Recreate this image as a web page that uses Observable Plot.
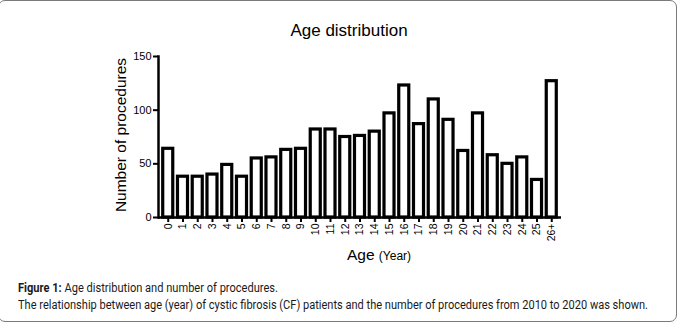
<!DOCTYPE html>
<html>
<head>
<meta charset="utf-8">
<script src="https://cdn.jsdelivr.net/npm/d3@7"></script>
<script src="https://cdn.jsdelivr.net/npm/@observablehq/plot@0.6"></script>
<style>
  html, body { margin: 0; padding: 0; background: #fff; }
  #wrap { position: relative; width: 679px; height: 323px; overflow: hidden; font-family: Arial, "Liberation Sans", sans-serif; color: #000; }
  #box { position: absolute; left: -2px; top: 0; width: 679px; height: 322px; border: 1px solid #7a7a7a; border-radius: 7px; box-sizing: border-box; }
  #chart { position: absolute; left: 0; top: 0; }
  .abs { position: absolute; white-space: nowrap; line-height: 1; }
  #title { left: 349px; top: 22px; transform: translateX(-50%); font-size: 17px; }
  #ylab { left: 121px; top: 135px; transform: translate(-50%, -50%) rotate(-90deg); font-size: 15.5px; }
  #xlab { left: 379px; top: 247px; transform: translateX(-50%); font-size: 15.5px; }
  #xlab small { font-size: 12px; }
  .cap { left: 18px; font-family: Roboto, "Noto Sans", sans-serif; font-size: 12px; color: #1a1a1a; transform-origin: 0 0; }
  #cap1 { top: 282px; }
  #cap2 { top: 299px; }
</style>
</head>
<body>
<div id="wrap">
  <div id="box"></div>
  <div id="chart"></div>
  <div id="title" class="abs">Age distribution</div>
  <div id="ylab" class="abs">Number of procedures</div>
  <div id="xlab" class="abs">Age <small>(Year)</small></div>
  <div id="cap1" class="abs cap"><b>Figure 1:</b> Age distribution and number of procedures.</div>
  <div id="cap2" class="abs cap">The relationship between age (year) of cystic fibrosis (CF) patients and the number of procedures from 2010 to 2020 was shown.</div>
</div>
<script>
const ages = ["0","1","2","3","4","5","6","7","8","9","10","11","12","13","14","15","16","17","18","19","20","21","22","23","24","25","26+"];
const counts = [64,38,38,40,49,38,55,56,63,64,82,82,75,76,80,97,123,87,110,91,62,97,58,50,56,35,127];
const yTicks = [0, 50, 100, 150];

const data = ages.map((a, i) => ({age: a, count: counts[i]}));

const chart = Plot.plot({
  width: 679,
  height: 270,
  marginLeft: 158,
  marginRight: 118,
  marginTop: 56,
  marginBottom: 53,
  style: {fontFamily: "Arial, 'Liberation Sans', sans-serif", background: "transparent", color: "#000", overflow: "visible"},
  x: {domain: ages, padding: 0.32, round: false, label: null},
  y: {domain: [0, 150], label: null},
  marks: [
    Plot.barY(data, {x: "age", y: "count", fill: "white", stroke: "black", strokeWidth: 3.2}),
    Plot.axisX({tickSize: 5, tickPadding: 1, tickRotate: -90, fontSize: 10.5, strokeWidth: 2, label: null}),
    Plot.axisY({ticks: yTicks, tickSize: 5, tickPadding: 2, fontSize: 11, strokeWidth: 2, label: null}),
    Plot.ruleY([0], {strokeWidth: 2.5}),
    Plot.frame({anchor: "left", strokeWidth: 2.5})
  ]
});
document.getElementById("chart").appendChild(chart);

// fit caption lines to the reference widths
function fit(id, target) {
  const el = document.getElementById(id);
  const w = el.getBoundingClientRect().width;
  if (w > 0) el.style.transform = `scaleX(${target / w})`;
}
fit("cap1", 260);
fit("cap2", 630);
</script>
</body>
</html>
